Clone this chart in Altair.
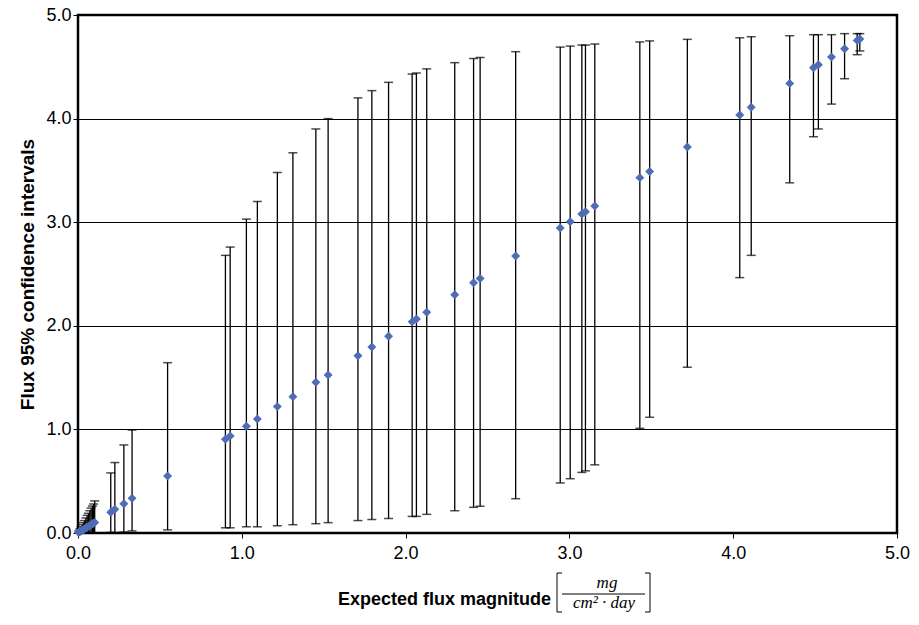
import altair as alt
import pandas as pd

# Expected flux magnitude (x), estimated flux (point), and 95% CI bounds
expected = [0.004, 0.011, 0.018, 0.025, 0.032, 0.040, 0.048, 0.056, 0.064, 0.072,
            0.080, 0.088, 0.095, 0.102,
            0.200, 0.225, 0.280, 0.330, 0.547, 0.900, 0.929, 1.028, 1.095, 1.217,
            1.312, 1.452, 1.527, 1.709, 1.794, 1.896, 2.040, 2.066, 2.129, 2.300,
            2.415, 2.455, 2.672, 2.944, 3.005, 3.076, 3.098, 3.155, 3.430, 3.490,
            3.720, 4.040, 4.110, 4.345, 4.490, 4.520, 4.600, 4.680, 4.757, 4.773]
estimate = [0.004, 0.011, 0.018, 0.025, 0.032, 0.040, 0.048, 0.056, 0.064, 0.072,
            0.080, 0.088, 0.095, 0.102,
            0.200, 0.230, 0.283, 0.335, 0.550, 0.904, 0.936, 1.030, 1.100, 1.220,
            1.316, 1.455, 1.525, 1.711, 1.795, 1.900, 2.040, 2.066, 2.130, 2.300,
            2.416, 2.456, 2.674, 2.944, 3.005, 3.080, 3.100, 3.156, 3.430, 3.490,
            3.726, 4.035, 4.110, 4.340, 4.490, 4.520, 4.595, 4.675, 4.755, 4.768]
ci_low = [0.000, 0.000, 0.000, 0.000, 0.000, 0.000, 0.000, 0.000, 0.000, 0.000,
          0.000, 0.000, 0.000, 0.000,
          0.005, 0.005, 0.010, 0.020, 0.030, 0.050, 0.050, 0.060, 0.060, 0.070,
          0.080, 0.090, 0.100, 0.120, 0.130, 0.140, 0.160, 0.160, 0.180, 0.215,
          0.248, 0.258, 0.331, 0.483, 0.524, 0.585, 0.600, 0.658, 1.010, 1.117,
          1.600, 2.465, 2.680, 3.380, 3.825, 3.900, 4.140, 4.385, 4.617, 4.653]
ci_high = [0.020, 0.040, 0.060, 0.080, 0.100, 0.120, 0.145, 0.170, 0.190, 0.215,
           0.240, 0.260, 0.280, 0.310,
           0.580, 0.680, 0.850, 0.994, 1.644, 2.680, 2.760, 3.030, 3.200, 3.480,
           3.670, 3.900, 4.000, 4.200, 4.270, 4.350, 4.430, 4.440, 4.480, 4.540,
           4.580, 4.590, 4.646, 4.690, 4.700, 4.710, 4.710, 4.720, 4.740, 4.750,
           4.765, 4.780, 4.790, 4.800, 4.810, 4.810, 4.810, 4.820, 4.820, 4.820]

axis_ticks = [0, 1, 2, 3, 4, 5]

df = pd.DataFrame({"expected": expected, "estimate": estimate,
                   "lo": ci_low, "hi": ci_high})

FONT = "Liberation Sans"
SERIF = "Liberation Serif"

xs = alt.Scale(domain=[0, 5], nice=False, zero=False)
ys = alt.Scale(domain=[0, 5], nice=False, zero=False)

x_axis = alt.Axis(values=axis_ticks, format=".1f", grid=False, domain=False,
                  tickColor="black", tickSize=5, tickWidth=1, labelFlush=False,
                  labelFont=FONT, labelFontSize=18, labelColor="black", labelPadding=6,
                  title="Expected flux magnitude", titleFont=FONT, titleFontSize=18,
                  titleFontWeight="bold", titleColor="black",
                  titleX=366, titleY=71, titleAlign="center", titleBaseline="alphabetic")
y_axis = alt.Axis(values=axis_ticks, format=".1f", grid=True, gridColor="black",
                  gridWidth=1, gridOpacity=1, domain=False, labelFlush=False,
                  tickColor="black", tickSize=5, tickWidth=1,
                  labelFont=FONT, labelFontSize=18, labelColor="black", labelPadding=2,
                  title="Flux 95% confidence intervals", titleFont=FONT, titleFontSize=19,
                  titleFontWeight="bold", titleColor="black",
                  titleX=-51, titleY=259, titleAlign="center", titleBaseline="middle",
                  titleAngle=-90)

base = alt.Chart(df)

bars = base.mark_rule(color="black", strokeWidth=1.3).encode(
    x=alt.X("expected:Q", scale=xs, axis=x_axis),
    y=alt.Y("lo:Q", scale=ys, axis=y_axis),
    y2="hi:Q",
)
cap_hi = base.mark_tick(color="black", orient="horizontal", size=9, thickness=1.5).encode(
    x=alt.X("expected:Q", scale=xs), y=alt.Y("hi:Q", scale=ys))
cap_lo = base.mark_tick(color="black", orient="horizontal", size=9, thickness=1.5).encode(
    x=alt.X("expected:Q", scale=xs), y=alt.Y("lo:Q", scale=ys))
pts = base.mark_point(shape="diamond", filled=True, color="#4F6CB5", opacity=1,
                      size=80).encode(
    x=alt.X("expected:Q", scale=xs), y=alt.Y("estimate:Q", scale=ys))

# Unit fraction next to the x-axis title
one = pd.DataFrame({"k": [0]})
ann = alt.Chart(one)
num = ann.mark_text(text="mg", font=SERIF, fontStyle="italic", fontSize=17,
                    color="black", align="center", baseline="alphabetic").encode(
    x=alt.value(529), y=alt.value(573))
den = ann.mark_text(text="cm² · day", font=SERIF, fontStyle="italic", fontSize=17,
                    color="black", align="center", baseline="alphabetic").encode(
    x=alt.value(526), y=alt.value(593))
frac = ann.mark_rule(color="black", strokeWidth=1).encode(
    x=alt.value(484), x2=alt.value(567), y=alt.value(579))
lb_v = ann.mark_rule(color="black", strokeWidth=1).encode(
    x=alt.value(479), y=alt.value(558), y2=alt.value(597))
lb_t = ann.mark_rule(color="black", strokeWidth=1).encode(
    x=alt.value(479), x2=alt.value(484), y=alt.value(558))
lb_b = ann.mark_rule(color="black", strokeWidth=1).encode(
    x=alt.value(479), x2=alt.value(484), y=alt.value(597))
rb_v = ann.mark_rule(color="black", strokeWidth=1).encode(
    x=alt.value(572), y=alt.value(558), y2=alt.value(597))
rb_t = ann.mark_rule(color="black", strokeWidth=1).encode(
    x=alt.value(567), x2=alt.value(572), y=alt.value(558))
rb_b = ann.mark_rule(color="black", strokeWidth=1).encode(
    x=alt.value(567), x2=alt.value(572), y=alt.value(597))

chart = alt.layer(bars, cap_hi, cap_lo, pts, num, den, frac,
                  lb_v, lb_t, lb_b, rb_v, rb_t, rb_b).properties(
    width=819, height=518,
    autosize=alt.AutoSizeParams(type="none"),
    padding={"left": 70, "top": 7, "right": 14, "bottom": 80},
    background="white",
).configure_view(stroke="black", strokeWidth=2.5)

chart.save("out.html", embed_options={"renderer": "svg", "actions": False})
